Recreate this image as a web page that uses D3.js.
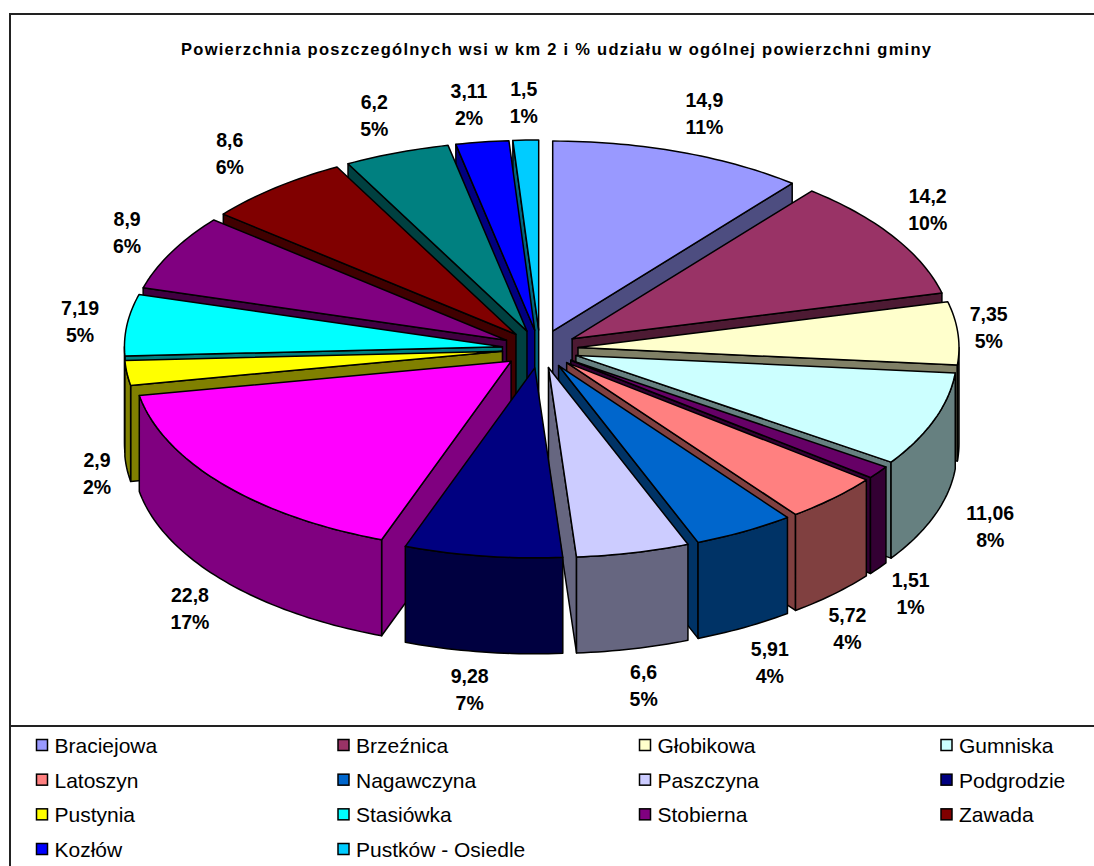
<!DOCTYPE html>
<html><head><meta charset="utf-8">
<script src="https://cdnjs.cloudflare.com/ajax/libs/d3/7.8.5/d3.min.js"></script>
<style>html,body{margin:0;padding:0;background:#fff;overflow:hidden}svg{display:block}text{font-family:"Liberation Sans",Arial,sans-serif;fill:#000}</style>
</head><body><svg id="c" width="1094" height="866"></svg>
<script>
const titleText = "Powierzchnia poszczególnych wsi w km 2 i % udziału w ogólnej powierzchni gminy";
const values = [14.9,14.2,7.35,11.06,1.51,5.72,5.91,6.6,9.28,22.8,2.9,7.19,8.9,8.6,6.2,3.11,1.5];
const valueLabels = ["14,9","14,2","7,35","11,06","1,51","5,72","5,91","6,6","9,28","22,8","2,9","7,19","8,9","8,6","6,2","3,11","1,5"];
const percentLabels = ["11%","10%","5%","8%","1%","4%","4%","5%","7%","17%","2%","5%","6%","6%","5%","2%","1%"];
const topColors = ["#9999FF","#993366","#FFFFCC","#CCFFFF","#660066","#FF8080","#0066CC","#CCCCFF","#000080","#FF00FF","#FFFF00","#00FFFF","#800080","#800000","#008080","#0000FF","#00CCFF"];
const legendNames = ["Braciejowa","Brzeźnica","Głobikowa","Gumniska","Latoszyn","Nagawczyna","Paszczyna","Podgrodzie","Pustynia","Stasiówka","Stobierna","Zawada","Kozłów","Pustków - Osiedle"];
const legendColors = ["#9999FF","#993366","#FFFFCC","#CCFFFF","#FF8080","#0066CC","#CCCCFF","#000080","#FFFF00","#00FFFF","#800080","#800000","#0000FF","#00CCFF"];
const labelNudgeX = [6,-13,-25,3,-13,-25,-2,-2,-5,13,29,12,8,-8,-2,-5,0];
const labelNudgeY = [-3,-7,-3,-2,2,7,1,-1,-1,4,0,0,-2,-5,-2,0,0];

const svg = d3.select("#c");
const cx=540, cy=349, rxLeft=378, rxRight=381, ry=190, depth=96, explode=0.1;
const sx = d3.scaleLinear().domain([-1,0,1]).range([cx-rxLeft,cx,cx+rxRight]);
const sy = d3.scaleLinear().domain([-1,1]).range([cy+ry,cy-ry]);
const line = d3.line();
const pie = d3.pie().sort(null).value(d=>d).startAngle(0).endAngle(2*Math.PI);
const arcs = pie(values).map((a,i)=>{
  const mid=(a.startAngle+a.endAngle)/2;
  return {i,a0:a.startAngle,a1:a.endAngle,mid,ox:explode*Math.sin(mid),oy:explode*Math.cos(mid)};
});
const pt=(s,ang,r,dz=0)=>[sx(s.ox+r*Math.sin(ang)),sy(s.oy+r*Math.cos(ang))+dz];
function arcPts(s,a0,a1,dz=0){
  const n=Math.max(2,Math.ceil((a1-a0)/0.02));
  return d3.range(n+1).map(k=>pt(s,a0+(a1-a0)*k/n,1,dz));
}
const darken=c=>{const r=d3.rgb(c);return d3.rgb(r.r/2,r.g/2,r.b/2).formatHex();};
const frame=svg.append("g").attr("stroke","#222").attr("stroke-width",2).attr("fill","none");
frame.append("path").attr("d",line([[10,866],[10,14],[1094,14]]));
frame.append("path").attr("d",line([[10,726],[1094,726]]));
svg.append("text").attr("x",181).attr("y",55).attr("font-size",16.5).attr("font-weight","bold")
  .attr("textLength",750).attr("lengthAdjust","spacing").text(titleText);

const order=arcs.slice().sort((p,q)=>Math.cos(q.mid)-Math.cos(p.mid));
const g=svg.append("g").attr("stroke","#000").attr("stroke-width",1.5).attr("stroke-linejoin","round");
order.forEach(s=>{
  const side=darken(topColors[s.i]);
  const wall=(ang)=>{
    const p=pt(s,ang,0),q=pt(s,ang,1);
    g.append("path").attr("fill",side).attr("d",line([p,q,[q[0],q[1]+depth],[p[0],p[1]+depth]])+"Z");
  };
  if(Math.sin(s.a0)<-1e-6) wall(s.a0);
  if(Math.sin(s.a1)>1e-6) wall(s.a1);
  const b0=Math.max(s.a0,Math.PI/2), b1=Math.min(s.a1,3*Math.PI/2);
  if(b1>b0){
    const pts=arcPts(s,b0,b1).concat(arcPts(s,b0,b1,depth).reverse());
    g.append("path").attr("fill",side).attr("d",line(pts)+"Z");
  }
  g.append("path").attr("fill",topColors[s.i]).attr("d",line([pt(s,s.a0,0)].concat(arcPts(s,s.a0,s.a1)))+"Z");
});
const lab=svg.append("g").attr("font-size",19.5).attr("font-weight","bold").attr("text-anchor","middle");
arcs.forEach(s=>{
  const c=Math.cos(s.mid);
  const x=cx+381*1.247*Math.sin(s.mid)+labelNudgeX[s.i];
  const y=cy-ry*1.3*c+(c<0?depth:0)+labelNudgeY[s.i];
  lab.append("text").attr("x",x).attr("y",y-6).text(valueLabels[s.i]);
  lab.append("text").attr("x",x).attr("y",y+21).text(percentLabels[s.i]);
});
const lx=d3.scalePoint().domain([0,1,2,3]).range([36.5,941]);
const ly=d3.scalePoint().domain([0,1,2,3]).range([746,850]);
const leg=svg.append("g");
legendNames.forEach((n,i)=>{
  const x=lx(i%4), y=ly(Math.floor(i/4));
  leg.append("rect").attr("x",x).attr("y",y-6.5).attr("width",11).attr("height",11).attr("fill",legendColors[i]).attr("stroke","#000").attr("stroke-width",1.5);
  leg.append("text").attr("x",x+18).attr("y",y+7).attr("font-size",21).text(n);
});
</script></body></html>
